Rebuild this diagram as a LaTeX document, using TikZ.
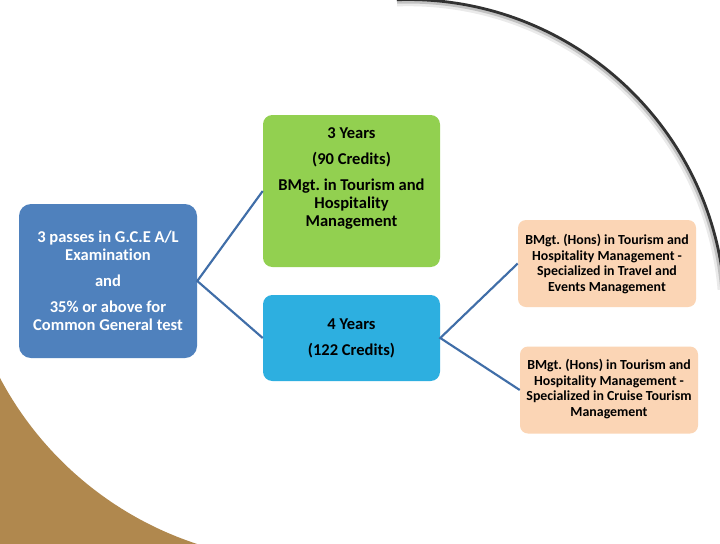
\documentclass[tikz,border=0pt]{standalone}
\usepackage{fontspec}
\setmainfont{Carlito}[Ligatures=NoCommon]
\frenchspacing
\definecolor{boxblue}{RGB}{79,129,189}
\definecolor{boxgreen}{RGB}{146,208,80}
\definecolor{boxcyan}{RGB}{45,175,224}
\definecolor{peach}{RGB}{251,213,181}
\definecolor{brownbg}{RGB}{176,136,78}
\definecolor{arcgray}{RGB}{50,50,50}
\definecolor{connblue}{RGB}{64,110,168}
\begin{document}
\begin{tikzpicture}[x=0.75pt,y=-0.75pt,
  box/.style={rounded corners=7pt, draw=none, inner sep=0pt},
  conn/.style={draw=connblue, line width=1.6pt, line join=miter},
  bigtxt/.style={align=center, font=\fontsize{12.4}{13.5}\selectfont\bfseries, inner sep=0pt},
  smalltxt/.style={align=center, font=\fontsize{10.4}{11.6}\selectfont\bfseries, inner sep=0pt}]
\useasboundingbox (0,0) rectangle (720,543);
\fill[white] (0,0) rectangle (720,543);
\begin{scope}
  \clip (0,0) rectangle (720,543);
  % brown corner
  \fill[brownbg] (304,217) ++(205:258pt) arc[start angle=205,end angle=253,radius=258pt] -- (-20,560) -- cycle;
  % dark arc with soft shadow
  \draw[arcgray, opacity=0.10, line width=5pt] (408,317) ++(92:235.6pt) arc[start angle=92,end angle=5,radius=235.6pt];
  \draw[arcgray, opacity=0.22, line width=3pt] (408,317) ++(92:236.6pt) arc[start angle=92,end angle=5,radius=236.6pt];
  \draw[arcgray, line width=2.1pt] (408,317) ++(92:238.1pt) arc[start angle=92,end angle=5,radius=238.1pt];
\end{scope}
% boxes
\node[box, fill=boxblue, minimum width=133.5pt, minimum height=115.5pt, rounded corners=9pt] (req) at (108,281) {};
\node[box, fill=boxgreen, minimum width=132.75pt, minimum height=114pt] (three) at (351.5,191) {};
\node[box, fill=boxcyan, minimum width=132.75pt, minimum height=64.5pt] (four) at (351.5,338) {};
\node[box, fill=peach, minimum width=133.5pt, minimum height=65.25pt, rounded corners=6pt] (travel) at (607,263.5) {};
\node[box, fill=peach, minimum width=133.5pt, minimum height=65.25pt, rounded corners=6pt] (cruise) at (609,390) {};
% connectors
\draw[conn] (three.west) -- (req.east) -- (four.west);
\draw[conn] (travel.west) -- (four.east) -- (cruise.west);
% texts
\node[bigtxt, text=white] (reqtxt) at (108,281) {3 passes in G.C.E A/L\\Examination\\[6pt]and\\[6pt]35\% or above for\\Common General test};
\node[bigtxt] (threetxt) at (351.5,178) {3 Years\\[6pt](90 Credits)\\[6pt]BMgt. in Tourism and\\Hospitality\\Management};
\node[bigtxt] (fourtxt) at (351.5,338) {4 Years\\[6pt](122 Credits)};
\node[smalltxt] (traveltxt) at (607,264) {BMgt. (Hons) in Tourism and\\Hospitality Management -\\Specialized in Travel and\\Events Management};
\node[smalltxt] (cruisetxt) at (609,389) {BMgt. (Hons) in Tourism and\\Hospitality Management -\\Specialized in Cruise Tourism\\Management};
\end{tikzpicture}
\end{document}
